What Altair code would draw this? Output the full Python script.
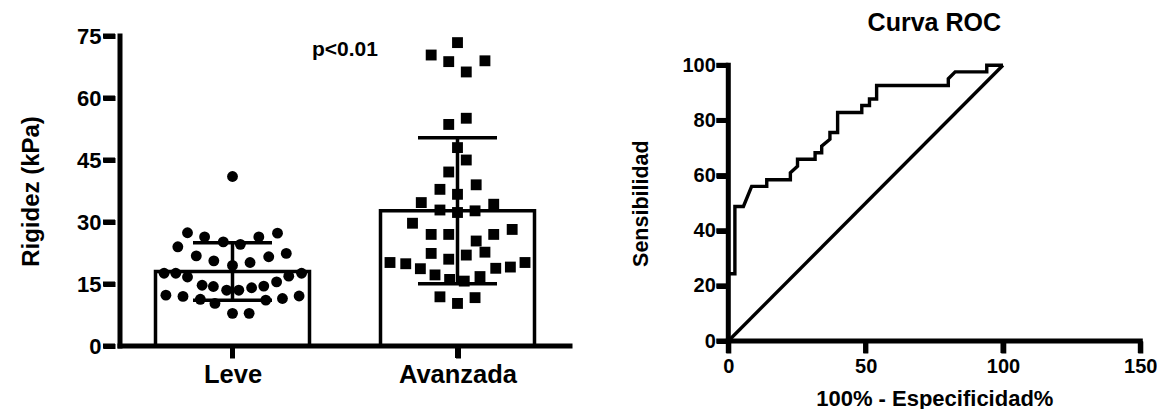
import altair as alt
import pandas as pd

# ---- Rigidez por grupo (kPa) ----
grupos = ["Leve", "Avanzada"]

leve_kpa = [41.0, 27.4, 26.4, 25.2, 24.6, 26.4, 27.3, 24.0, 21.8, 20.6, 19.5, 20.2,
            21.6, 22.4, 17.6, 17.6, 16.7, 16.9, 17.6, 14.7, 14.4, 13.5, 13.5, 14.1,
            14.5, 15.5, 12.3, 12.0, 11.3, 10.3, 11.1, 11.5, 12.1, 7.9, 7.9]
# horizontal scatter of each point, as a fraction of the category step
leve_jitter = [0.0, -0.2, -0.124, -0.041, 0.035, 0.117, 0.2, -0.243, -0.161, -0.083, 0.0, 0.078,
               0.161, 0.239, -0.304, -0.252, -0.2, 0.25, 0.307, -0.135, -0.085, -0.026, 0.028, 0.085,
               0.139, 0.196, -0.296, -0.22, -0.143, -0.078, 0.148, 0.222, 0.296, 0.0, 0.074]

avanzada_kpa = [73.4, 70.4, 68.8, 69.0, 66.3, 53.6, 55.1, 48.0, 45.0, 42.1, 37.9, 39.0,
                36.7, 34.7, 34.3, 32.9, 32.3, 32.7, 29.7, 28.2, 27.0, 27.0, 27.0, 25.4,
                22.7, 22.4, 22.0, 21.0, 20.2, 19.9, 20.2, 18.7, 19.1, 18.8, 17.2, 16.8,
                16.1, 15.7, 11.9, 11.7, 10.3]
avanzada_jitter = [0.0, -0.117, -0.039, 0.122, 0.039, -0.039, 0.039, 0.0, 0.039, -0.039, -0.078, 0.083,
                   0.0, -0.161, 0.161, -0.078, 0.0, 0.078, -0.2, 0.243, -0.117, -0.039, 0.161, 0.083,
                   0.122, -0.117, 0.039, -0.039, -0.3, -0.23, 0.3, -0.165, 0.235, 0.17, -0.1, 0.1,
                   -0.035, 0.03, -0.078, 0.078, 0.0]

p_label = "p<0.01"
kpa_domain = [0, 75]
kpa_ticks = [0, 15, 30, 45, 60, 75]
grupo_domain = [0, 2]
grupo_ticks = [0.5, 1.5]

# ---- Curva ROC ----
roc_fpr = [0, 0, 2.4, 2.4, 5.5, 8.5, 14, 14, 22.6, 22.6, 25.2, 25.2, 31.6, 31.6, 34, 34,
           37, 37, 39.8, 39.8, 48.6, 48.6, 51.4, 51.4, 54, 54, 80.1, 80.1, 82.6, 94.1, 94.1, 100]
roc_tpr = [0, 24.4, 24.4, 48.8, 48.8, 56.1, 56.1, 58.5, 58.5, 61.0, 63.4, 65.9, 65.9, 68.3, 68.3, 70.7,
           73.2, 75.6, 75.6, 82.9, 82.9, 85.4, 85.4, 87.8, 87.8, 92.7, 92.7, 95.1, 97.6, 97.6, 100, 100]
ref_line = [0, 100]
roc_title = "Curva ROC"
sens_domain = [0, 100]
sens_ticks = [0, 20, 40, 60, 80, 100]
espec_domain = [0, 150]
espec_ticks = [0, 50, 100, 150]

FONT = "Liberation Sans"
TICK = 12      # tick length, px
LINE_W = 5     # axis line / tick thickness, px

rows = []
for i, (g, vals, jit) in enumerate([(grupos[0], leve_kpa, leve_jitter),
                                     (grupos[1], avanzada_kpa, avanzada_jitter)]):
    for v, j in zip(vals, jit):
        rows.append({"grupo": g, "pos": i + 0.5, "px": i + 0.5 + j, "kpa": v})
df = pd.DataFrame(rows)

AX = dict(grid=False, domain=False, tickColor="#000000", tickWidth=LINE_W, tickSize=TICK,
          labelColor="#000000", labelFont=FONT, labelFontWeight="bold", titleFont=FONT,
          titleFontWeight="bold", titleColor="#000000", labelFlush=False, labelOverlap=False)


def axis_frame(xs, ys, xdom, ydom, xticks, yticks, bottom_px):
    """Solid black axis lines and outward ticks for one panel."""
    ends = pd.DataFrame({"x0": [xdom[0]], "x1": [xdom[1]], "y0": [ydom[0]], "y1": [ydom[1]]})
    rule = dict(color="black", strokeWidth=LINE_W)
    vline = alt.Chart(ends).mark_rule(strokeCap="square", **rule).encode(
        x=alt.X("x0:Q", scale=xs), y=alt.Y("y0:Q", scale=ys), y2="y1:Q")
    hline = alt.Chart(ends).mark_rule(strokeCap="square", **rule).encode(
        x=alt.X("x0:Q", scale=xs), x2="x1:Q", y=alt.Y("y0:Q", scale=ys))
    yt = alt.Chart(pd.DataFrame({"v": yticks})).mark_rule(**rule).encode(
        y=alt.Y("v:Q", scale=ys), x=alt.value(-TICK), x2=alt.value(0))
    xt = alt.Chart(pd.DataFrame({"v": xticks})).mark_rule(**rule).encode(
        x=alt.X("v:Q", scale=xs), y=alt.value(bottom_px), y2=alt.value(bottom_px + TICK))
    return [vline, hline, yt, xt]


# ---- Left panel: bars with mean ± SD and individual values ----
xL = alt.Scale(domain=grupo_domain, nice=False, zero=False)
yL = alt.Scale(domain=kpa_domain, nice=False)
H_L = 310

x_axis_L = alt.Axis(values=grupo_ticks, title=None, labelFontSize=25.5, labelPadding=4,
                    labelExpr=f"datum.value < 1 ? '{grupos[0]}' : '{grupos[1]}'", **AX)
y_axis_L = alt.Axis(values=kpa_ticks, title="Rigidez (kPa)", labelFontSize=22,
                    labelPadding=2, titleFontSize=24, titleX=-83.3, titleBaseline="middle", **AX)

base = alt.Chart(df)

bars = base.mark_bar(size=154, fill="white", stroke="black", strokeWidth=3.5).encode(
    x=alt.X("pos:Q", scale=xL, axis=x_axis_L),
    y=alt.Y("mean(kpa):Q", scale=yL, axis=y_axis_L),
)

points = base.mark_point(filled=True, size=118, opacity=1, color="black").encode(
    x=alt.X("px:Q", scale=xL, axis=x_axis_L),
    y=alt.Y("kpa:Q", scale=yL, axis=y_axis_L),
    shape=alt.Shape("grupo:N", scale=alt.Scale(domain=grupos, range=["circle", "square"]),
                    legend=None),
)

stats = base.transform_aggregate(
    media="mean(kpa)", de="stdev(kpa)", groupby=["pos"]
).transform_calculate(lo="datum.media - datum.de", hi="datum.media + datum.de")

whisker = stats.mark_rule(color="black", strokeWidth=3.5).encode(
    x=alt.X("pos:Q", scale=xL, axis=x_axis_L),
    y=alt.Y("lo:Q", scale=yL, axis=y_axis_L), y2="hi:Q"
)
caps = stats.transform_fold(["lo", "hi"], as_=["lim", "val"]).mark_tick(
    orient="horizontal", size=79, thickness=3.5, color="black", opacity=1
).encode(x=alt.X("pos:Q", scale=xL, axis=x_axis_L), y=alt.Y("val:Q", scale=yL, axis=y_axis_L))

p_text = alt.Chart(pd.DataFrame({"txt": [p_label]})).mark_text(
    font=FONT, fontSize=21, fontWeight="bold", baseline="alphabetic", color="black"
).encode(x=alt.datum(1.0), y=alt.datum(70.2), text="txt:N")

left = alt.layer(bars, points, whisker, caps, p_text,
                 *axis_frame(xL, yL, grupo_domain, kpa_domain, grupo_ticks, kpa_ticks, H_L)
                 ).properties(width=460, height=H_L)

# ---- Right panel: ROC curve ----
roc_df = pd.DataFrame({"fpr": roc_fpr, "tpr": roc_tpr, "paso": list(range(len(roc_fpr)))})
ref_df = pd.DataFrame({"fpr": ref_line, "tpr": ref_line, "paso": [0, 1]})

H_R = 305
xR = alt.Scale(domain=espec_domain, nice=False)
yR = alt.Scale(domain=sens_domain, nice=False, range=[H_R, 29.3])

x_axis_R = alt.Axis(values=espec_ticks, title="100% - Especificidad%", labelFontSize=20,
                    labelPadding=3, titleFontSize=22, titlePadding=12, **AX)
y_axis_R = alt.Axis(values=sens_ticks, title="Sensibilidad", labelFontSize=20,
                    labelPadding=1, titleFontSize=21.5, titleX=-86.6, titleBaseline="middle", **AX)

diag = alt.Chart(ref_df).mark_line(color="black", strokeWidth=3.4).encode(
    x=alt.X("fpr:Q", scale=xR, axis=x_axis_R),
    y=alt.Y("tpr:Q", scale=yR, axis=y_axis_R),
    order="paso:Q",
)
roc = alt.Chart(roc_df).mark_line(color="black", strokeWidth=3.4, strokeJoin="miter").encode(
    x=alt.X("fpr:Q", scale=xR, axis=x_axis_R),
    y=alt.Y("tpr:Q", scale=yR, axis=y_axis_R),
    order="paso:Q",
)
# panel heading, centred over the plot, just above the frame
heading = alt.Chart(pd.DataFrame({"txt": [roc_title]})).mark_text(
    font=FONT, fontSize=25, fontWeight="bold", baseline="alphabetic", color="black"
).encode(x=alt.datum(75), y=alt.value(-5), text="txt:N")

right = alt.layer(diag, roc, heading,
                  *axis_frame(xR, yR, espec_domain, sens_domain, espec_ticks, sens_ticks, H_R)
                  ).properties(width=412, height=H_R)

chart = alt.hconcat(left, right, spacing=153.3, bounds="flush").properties(
    padding={"left": 19, "top": 11, "right": 0, "bottom": 0}
).configure_view(stroke=None).configure_axis(**AX)

chart.save("out.html", embed_options={"renderer": "svg", "actions": False})
